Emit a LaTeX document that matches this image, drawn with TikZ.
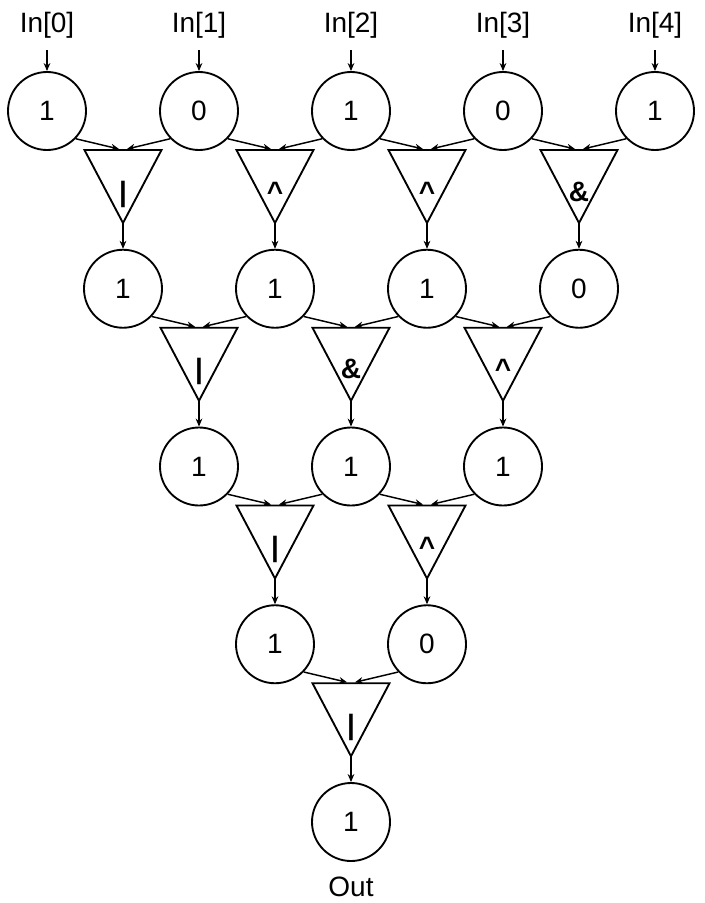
\documentclass[tikz,border=0pt]{standalone}
\usepackage{fontspec}
\setmainfont{Liberation Sans}
\usetikzlibrary{arrows.meta,positioning,calc}

\tikzset{
    bit/.style={draw, circle, line width=1.4pt, minimum size=58.5pt, inner sep=0pt,
        font=\fontsize{21}{25}\selectfont},
    gate/.style={draw, line width=1.4pt, line join=miter},
    wire/.style={line width=1.1pt, -{Stealth[length=6pt,width=5pt]}},
    tag/.style={inner sep=0pt, font=\fontsize{21}{25}\selectfont},
    optag/.style={tag, font=\fontsize{21}{25}\selectfont\bfseries},
}

\begin{document}
\begin{tikzpicture}[x=0.75pt, y=-0.75pt]
        \def\DX{152}      % Spacing of bits in a row
        \def\DY{177.75}   % Spacing of rows
        \def\W{38.5}      % Half width of a gate
        \def\H{73}        % Height of a gate
        \useasboundingbox (0,0) rectangle (704,903);

        % bits, row by row
        \foreach \vals [count=\r from 0] in {{1,0,1,0,1},{1,1,1,0},{1,1,1},{1,0},{1}} {
            \foreach \v [count=\k from 0] in \vals {
                \node[bit] (c\r\k) at ({47 + 76*\r + \DX*\k}, {111 + \DY*\r}) {\v};
            }
        }

        % inputs and output
        \foreach \k in {0,...,4} {
            \node[tag] (in\k) at ({47 + \DX*\k}, 25) {In[\k]};
            \draw[wire, shorten <=9pt] (in\k.south) -- (c0\k.north);
        }
        \node[tag, below=11pt of c40] (out) {Out};

        % gates between two bits
        \foreach \ops [count=\r from 0] in {{|,\textasciicircum,\textasciicircum,\&},{|,\&,\textasciicircum},{|,\textasciicircum},{|}} {
            \pgfmathtruncatemacro{\n}{\r+1}
            \foreach \op [count=\k from 0] in \ops {
                \pgfmathtruncatemacro{\m}{\k+1}
                \coordinate (t\r\k) at ({123 + 76*\r + \DX*\k}, {150 + \DY*\r});
                \coordinate (a\r\k) at ($(t\r\k)+(0,\H)$);
                \draw[gate] ($(t\r\k)+(-\W,0)$) -- ($(t\r\k)+(\W,0)$) -- (a\r\k) -- cycle;
                \node[optag, anchor=base] (g\r\k) at ($(t\r\k)+(0,51)$) {\op};
                \draw[wire] (c\r\k.-44) -- ($(t\r\k)+(-4,-1)$);
                \draw[wire] (c\r\m.-136) -- ($(t\r\k)+(4,-1)$);
                \draw[wire] (a\r\k) -- (c\n\k.north);
            }
        }
    \end{tikzpicture}
\end{document}
